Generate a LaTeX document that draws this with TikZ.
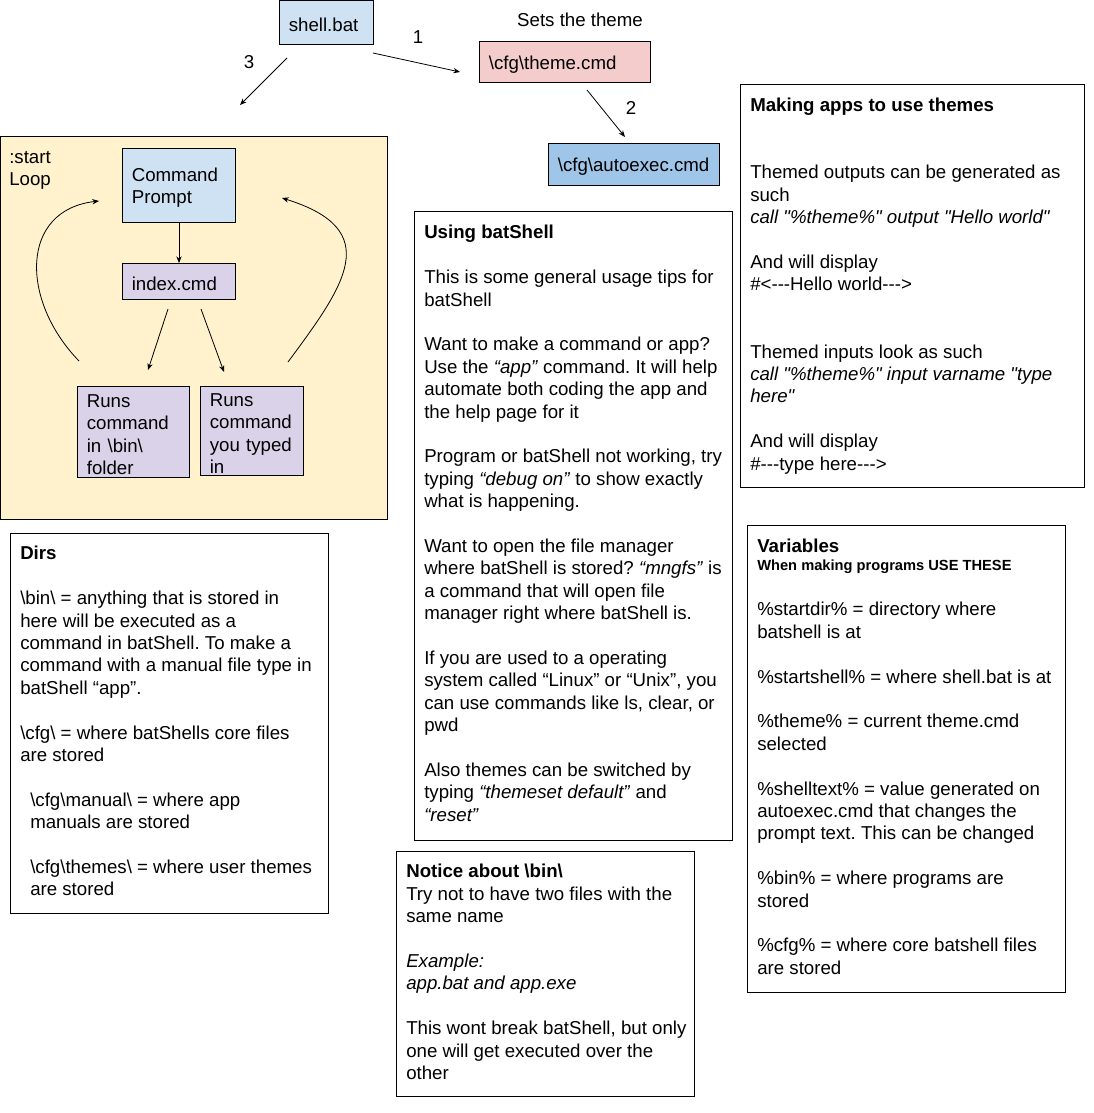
\documentclass[tikz,border=0pt]{standalone}
\usepackage{fontspec}
\setmainfont{Liberation Sans}
\usetikzlibrary{arrows.meta, positioning}

\definecolor{promptblue}{HTML}{CFE2F3}
\definecolor{themepink}{HTML}{F4CCCC}
\definecolor{execblue}{HTML}{9FC5E8}
\definecolor{cmdlilac}{HTML}{D9D2E9}
\definecolor{loopyellow}{HTML}{FFF2CC}
\newcommand{\bsl}{\textbackslash}
\newcommand{\dq}{\textquotedbl}
\frenchspacing

\begin{document}
\begin{tikzpicture}[x=0.75pt, y=-0.75pt,
      blk/.style={draw, line width=0.75pt, anchor=north west, inner xsep=7pt, inner ysep=0pt, align=left, font=\fontsize{14pt}{16.8pt}\selectfont, execute at begin node={\rule{0pt}{13.5pt}}},
      note/.style={anchor=north west, inner sep=0pt, align=left, font=\fontsize{14pt}{16.8pt}\selectfont},
      panel/.style={draw, line width=0.75pt},
      arr/.style={-{Stealth[length=5pt, width=4pt]}, line width=0.6pt},
      num/.style={font=\fontsize{14pt}{16.8pt}\selectfont},
    ]

    \fill[white] (0,0) rectangle (1093,1113);
    \useasboundingbox (0,0) rectangle (1093,1113);

    % loop area
    \draw[panel, fill=loopyellow] (0,136) rectangle (387,519);
    \node[note] (loop_lbl) at (9,151) {:start\\Loop};

    \node[blk, fill=promptblue, text width=56.5pt, minimum height=33pt] (shell_bat) at (279,0) {shell.bat};
    \node[blk, fill=themepink, text width=114.25pt, minimum height=30.75pt] (theme_cmd) at (479,41) {\bsl cfg\bsl theme.cmd};
    \node[blk, fill=execblue, text width=114.25pt, minimum height=31.5pt] (auto_exec) at (548,143) {\bsl cfg\bsl autoexec.cmd};
    \node[num] (theme_lbl) at (580,20) {Sets the theme};

    \node[blk, fill=promptblue, text width=70.75pt, minimum height=55.5pt] (cmd_prompt) at (122,148) {Command\\Prompt};
    \node[blk, fill=cmdlilac, text width=70.75pt, minimum height=27pt] (index_cmd) at (122,263) {index.cmd};
    \node[blk, fill=cmdlilac, text width=70pt, minimum height=68.25pt] (run_bin) at (77,386) {Runs\\command\\in \bsl bin\bsl\\folder};
    \node[blk, fill=cmdlilac, text width=63.25pt, minimum height=66.75pt] (run_typed) at (200,386) {Runs\\command\\you typed\\in};

    \node[num] (n1) at (418,37) {1};
    \node[num] (n2) at (631,108) {2};
    \node[num] (n3) at (249,62) {3};

    \coordinate (a1_from) at (373,53);
    \coordinate (a1_to) at (460,72);
    \coordinate (a2_from) at (587,90);
    \coordinate (a2_to) at (625,137);
    \coordinate (a3_from) at (287,58);
    \coordinate (a3_to) at (240,105);
    \coordinate (bin_from) at (168,309);
    \coordinate (bin_to) at (148,370);
    \coordinate (typed_from) at (201,309);
    \coordinate (typed_to) at (224,372);
    \coordinate (back_l_from) at (79,361);
    \coordinate (back_l_to) at (99,201);
    \coordinate (back_r_from) at (288,362);
    \coordinate (back_r_to) at (282,198);

    \draw[arr] (a1_from) -- (a1_to);
    \draw[arr] (a2_from) -- (a2_to);
    \draw[arr] (a3_from) -- (a3_to);
    \draw[arr] (cmd_prompt.south) -- (index_cmd.north);
    \draw[arr] (bin_from) -- (bin_to);
    \draw[arr] (typed_from) -- (typed_to);
    \draw[arr] (back_l_from) .. controls (20,300) and (20,210) .. (back_l_to);
    \draw[arr] (back_r_from) .. controls (345,285) and (385,230) .. (back_r_to);

    % text panels
    \draw[panel] (740,85) rectangle (1084,487);
    \node[note] (apps_txt) at (750,98) {\textbf{Making apps to use themes}\\[2\baselineskip]
      Themed outputs can be generated as\\
      such\\
      \textit{call \dq\%theme\%\dq{} output \dq Hello world\dq}\\[\baselineskip]
      And will display\\
      \#<-{}-{}-Hello world-{}-{}->\\[2\baselineskip]
      Themed inputs look as such\\
      \textit{call \dq\%theme\%\dq{} input varname \dq type}\\
      \textit{here\dq}\\[\baselineskip]
      And will display\\
      \#-{}-{}-type here-{}-{}->};

    \draw[panel] (414,211) rectangle (732,840);
    \node[note] (usage_txt) at (424,225) {\textbf{Using batShell}\\[\baselineskip]
      This is some general usage tips for\\
      batShell\\[\baselineskip]
      Want to make a command or app?\\
      Use the \textit{“app”} command. It will help\\
      automate both coding the app and\\
      the help page for it\\[\baselineskip]
      Program or batShell not working, try\\
      typing \textit{“debug on”} to show exactly\\
      what is happening.\\[\baselineskip]
      Want to open the file manager\\
      where batShell is stored? \textit{“mngfs”} is\\
      a command that will open file\\
      manager right where batShell is.\\[\baselineskip]
      If you are used to a operating\\
      system called “Linux” or “Unix”, you\\
      can use commands like ls, clear, or\\
      pwd\\[\baselineskip]
      Also themes can be switched by\\
      typing \textit{“themeset default”} and\\
      \textit{“reset”}};

    \draw[panel] (10,533) rectangle (328,913);
    \node[note] (dirs_txt) at (20,546) {\textbf{Dirs}\\[\baselineskip]
      \bsl bin\bsl{} = anything that is stored in\\
      here will be executed as a\\
      command in batShell. To make a\\
      command with a manual file type in\\
      batShell “app”.\\[\baselineskip]
      \bsl cfg\bsl{} = where batShells core files\\
      are stored\\[\baselineskip]
      \hspace*{7.5pt}\bsl cfg\bsl manual\bsl{} = where app\\
      \hspace*{7.5pt}manuals are stored\\[\baselineskip]
      \hspace*{7.5pt}\bsl cfg\bsl themes\bsl{} = where user themes\\
      \hspace*{7.5pt}are stored};

    \draw[panel] (747,525) rectangle (1065,992);
    \node[note] (vars_title) at (757,539) {\textbf{Variables}};
    \node[note, font=\fontsize{11pt}{13pt}\selectfont\bfseries] (vars_sub) at (757,560) {When making programs USE THESE};
    \node[note] (vars_txt) at (757,602) {\%startdir\% = directory where\\
      batshell is at\\[\baselineskip]
      \%startshell\% = where shell.bat is at\\[\baselineskip]
      \%theme\% = current theme.cmd\\
      selected\\[\baselineskip]
      \%shelltext\% = value generated on\\
      autoexec.cmd that changes the\\
      prompt text. This can be changed\\[\baselineskip]
      \%bin\% = where programs are\\
      stored\\[\baselineskip]
      \%cfg\% = where core batshell files\\
      are stored};

    \draw[panel] (396,851) rectangle (694,1096);
    \node[note] (notice_txt) at (406,864) {\textbf{Notice about \bsl bin\bsl}\\
      Try not to have two files with the\\
      same name\\[\baselineskip]
      \textit{Example:}\\
      \textit{app.bat and app.exe}\\[\baselineskip]
      This wont break batShell, but only\\
      one will get executed over the\\
      other};
  \end{tikzpicture}
\end{document}
